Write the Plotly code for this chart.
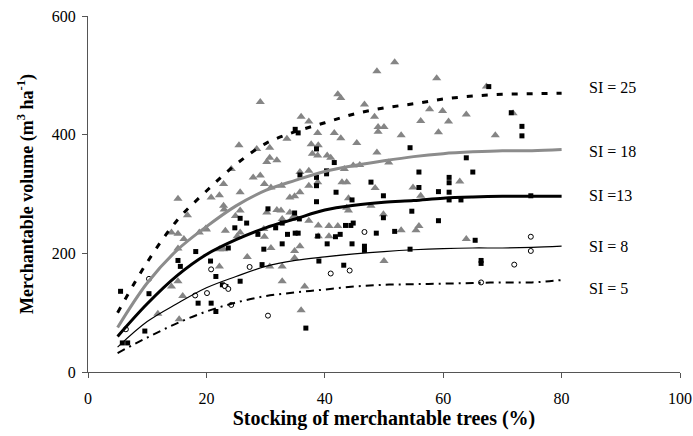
import plotly.graph_objects as go

# Gray triangles
tri_x = [15.2,16.8,14.1,15.2,16.2,15.2,15.2,14.1,16.0,11.8,15.4,18.8,19.9,20.0,20.8,22.2,22.9,22.9,23.0,22.2,
         22.2,22.9,23.2,24.2,25.5,25.7,25.7,24.9,25.7,25.2,26.9,27.9,28.5,29.1,29.1,29.7,29.8,30.2,30.2,29.8,
         30.7,30.7,30.9,30.9,30.7,31.9,31.9,32.6,32.8,32.7,32.8,32.8,33.6,34.1,34.1,34.4,34.9,34.9,34.9,34.9,
         35.8,35.8,35.8,36.0,36.0,36.6,37.3,37.3,37.3,37.3,37.7,37.9,38.8,38.8,38.8,38.9,38.9,38.9,40.4,40.7,
         40.7,41.0,41.6,42.2,42.7,42.2,42.7,42.9,43.7,43.3,43.7,44.0,44.0,44.8,45.4,45.9,46.7,47.8,48.4,48.5,
         48.8,48.8,49.0,49.0,50.0,49.9,50.0,50.8,51.8,52.9,52.9,54.9,55.4,55.9,56.2,56.2,57.7,58.9,59.2,59.9,
         60.9,62.8,63.9,63.9,67.3,68.8,71.8]
tri_y = [292,264,235,233,224,208,153,144,128,98,89,235,242,240,294,298,317,280,274,178,
         207,207,238,342,382,303,272,263,235,229,194,328,376,455,331,241,228,269,354,317,
         361,378,311,209,178,357,273,272,258,314,178,153,393,269,294,258,263,204,192,296,
         337,303,212,430,104,144,422,339,314,255,384,368,403,365,320,382,247,229,365,246,
         229,361,403,468,462,246,394,320,320,342,277,272,293,348,386,349,451,280,430,310,
         507,370,413,405,413,266,187,353,522,399,239,311,239,246,423,297,443,495,404,440,
         422,321,434,224,481,399,436]

# Black squares
sq_x = [5.5,5.8,6.7,9.6,10.3,15.2,15.6,18.2,18.6,20.8,20.7,21.6,21.6,22.7,23.3,23.7,24.8,25.7,25.7,26.8,
        28.7,29.4,29.7,30.4,31.7,32.8,32.8,33.7,34.9,35.0,35.5,35.0,35.5,35.8,35.7,36.8,38.6,38.6,38.6,38.6,
        39.0,38.8,40.3,40.3,40.4,41.6,41.8,41.9,42.6,43.2,43.5,44.6,44.4,44.8,44.6,46.7,46.7,47.8,48.7,49.9,
        49.9,51.8,54.4,54.7,54.4,55.9,55.9,59.2,59.2,61.0,61.0,61.0,61.0,63.0,63.9,65.0,65.4,66.4,66.4,67.7,
        71.5,73.3,73.3,74.8]
sq_y = [136,49,49,69,132,188,178,203,116,116,187,161,102,147,144,209,243,153,259,251,
        232,181,207,275,243,216,251,232,268,234,234,409,403,332,258,74,328,314,376,287,
        187,229,339,334,216,353,228,303,232,180,247,290,247,251,216,212,205,320,234,297,
        260,237,378,271,207,337,311,304,255,328,319,303,290,290,361,337,222,188,183,481,
        437,414,398,297]

# Open circles
ci_x = [6.4,10.3,18.1,20.1,20.8,23.1,23.7,24.2,27.3,30.4,41.0,44.2,46.7,66.4,72.0,74.8,74.8]
ci_y = [72,157,129,133,173,145,140,113,177,95,166,171,236,151,181,228,204]

# Fitted curves
curve_x = [5,10,15,20,25,30,35,40,45,50,55,60,65,70,75,80]
si25 = [100,185,255,305,350,385,405,420,435,445,452,460,465,468,469,470]
si18 = [75,150,205,245,280,306,323,338,348,356,363,368,371,373,373,375]
si13 = [60,115,162,198,223,243,258,273,281,286,289,293,295,296,296,296]
si8 = [42,85,115,142,161,178,188,194,199,203,206,208,209,209,210,212]
si5 = [32,58,82,102,117,128,134,139,144,147,148,149,150,151,151,155]

labels = ["SI = 25", "SI = 18", "SI =13", "SI = 8", "SI = 5"]
label_y = [479, 371, 298, 212, 141]

x_ticks = [0, 20, 40, 60, 80, 100]
y_ticks = [0, 200, 400, 600]

fig = go.Figure()
fig.add_trace(go.Scatter(x=tri_x, y=tri_y, mode="markers",
                         marker=dict(symbol="triangle-up", size=8, color="#858585"), showlegend=False))
fig.add_trace(go.Scatter(x=sq_x, y=sq_y, mode="markers",
                         marker=dict(symbol="square", size=5, color="black"), showlegend=False))
fig.add_trace(go.Scatter(x=ci_x, y=ci_y, mode="markers",
                         marker=dict(symbol="circle", size=5, color="white", line=dict(color="black", width=1)),
                         showlegend=False))

fig.add_trace(go.Scatter(x=curve_x, y=si25, mode="lines", line=dict(color="black", width=3, dash="6px,9px"),
                         line_shape="spline", showlegend=False))
fig.add_trace(go.Scatter(x=curve_x, y=si18, mode="lines", line=dict(color="#8c8c8c", width=3),
                         line_shape="spline", showlegend=False))
fig.add_trace(go.Scatter(x=curve_x, y=si13, mode="lines", line=dict(color="black", width=3),
                         line_shape="spline", showlegend=False))
fig.add_trace(go.Scatter(x=curve_x, y=si8, mode="lines", line=dict(color="black", width=1.2),
                         line_shape="spline", showlegend=False))
fig.add_trace(go.Scatter(x=curve_x, y=si5, mode="lines", line=dict(color="black", width=2, dash="8px,5px,2px,5px"),
                         line_shape="spline", showlegend=False))

for t, yv in zip(labels, label_y):
    fig.add_annotation(x=84.3, y=yv, text=t, showarrow=False, xanchor="left", yanchor="middle",
                       font=dict(family="Liberation Serif", size=16, color="black"))

axis_common = dict(showline=True, linecolor="#555555", linewidth=1.2, ticks="outside", ticklen=5,
                   tickcolor="#555555", showgrid=False, zeroline=False,
                   tickfont=dict(family="Liberation Serif", size=16, color="black"))

fig.update_xaxes(range=[0, 100], tickvals=x_ticks, ticktext=[str(v) for v in x_ticks],
                 title=dict(text="<b>Stocking of merchantable trees (%)</b>",
                            font=dict(family="Liberation Serif", size=20, color="black"), standoff=4),
                 ticklabelstandoff=7, **axis_common)
fig.update_yaxes(range=[0, 600], tickvals=y_ticks, ticktext=[str(v) for v in y_ticks],
                 title=dict(text="<b>Merchantable volume (m<sup>3</sup> ha<sup>-1</sup>)</b>",
                            font=dict(family="Liberation Serif", size=18, color="black"), standoff=13),
                 ticklabelstandoff=3, **axis_common)

fig.update_layout(width=693, height=436, margin=dict(l=88, r=13, t=16, b=64, autoexpand=False),
                  plot_bgcolor="white", paper_bgcolor="white")

fig.write_html("out.html", config={"displayModeBar": False},
               post_script="document.body.style.margin='0px';document.body.style.overflow='hidden';")
